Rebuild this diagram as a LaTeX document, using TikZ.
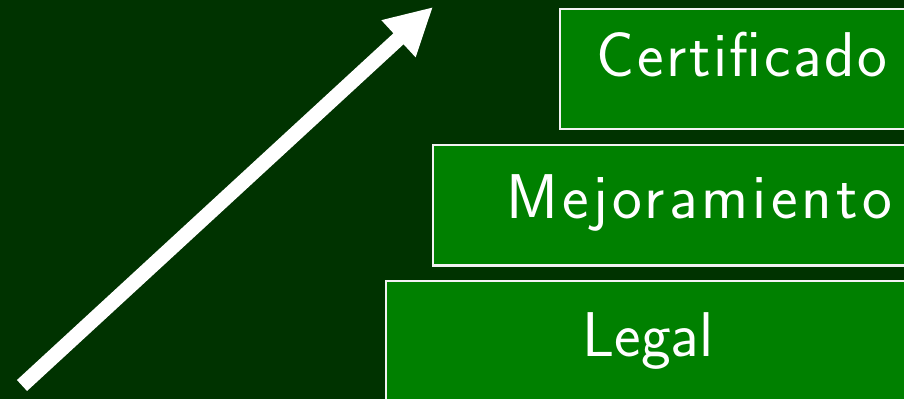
\documentclass[tikz,border=0pt]{standalone}
\usepackage{fontspec}
\newfontfamily\stepfont{lmsans17-regular.otf}
\usetikzlibrary{arrows.meta}
\definecolor{boardgreen}{HTML}{003300}
\definecolor{stepgreen}{HTML}{008000}
\definecolor{framewhite}{HTML}{F2F2F2}

\begin{document}
\begin{tikzpicture}[x=0.02cm,y=-0.02cm,
    level/.style={rectangle, draw=framewhite, line width=1.2pt,
                  fill=stepgreen, text=white, anchor=north west,
                  inner sep=0pt, font=\stepfont\fontsize{36}{40}\selectfont}]
    \useasboundingbox (0,0) rectangle (904,399);
    \clip (0,0) rectangle (904,399);
    \fill [boardgreen] (0,0) rectangle (904,399);
    % the three steps, lowest last
    \node (certificado) [level, minimum width=7.28cm,
                         text height=1.34cm, text depth=1.06cm]
          at (559,8) {\addfontfeatures{LetterSpace=4}Certificado};
    \node (mejoramiento) [level, minimum width=10.65cm,
                          text height=1.46cm, text depth=0.95cm]
          at (431.7,144) {\addfontfeatures{LetterSpace=6.5}Mejoramiento};
    \node (legal) [level, minimum width=10.47cm,
                   text height=1.5cm, text depth=1.3cm]
          at (385.3,280) {Legal};
    % rising arrow
    \coordinate (arrow_tail) at (22,385.5);
    \coordinate (arrow_tip) at (433,7);
    \draw [-{Triangle[length=26.7pt,width=26.7pt]}, white, line width=8.5pt]
          (arrow_tail) -- (arrow_tip);
\end{tikzpicture}
\end{document}
